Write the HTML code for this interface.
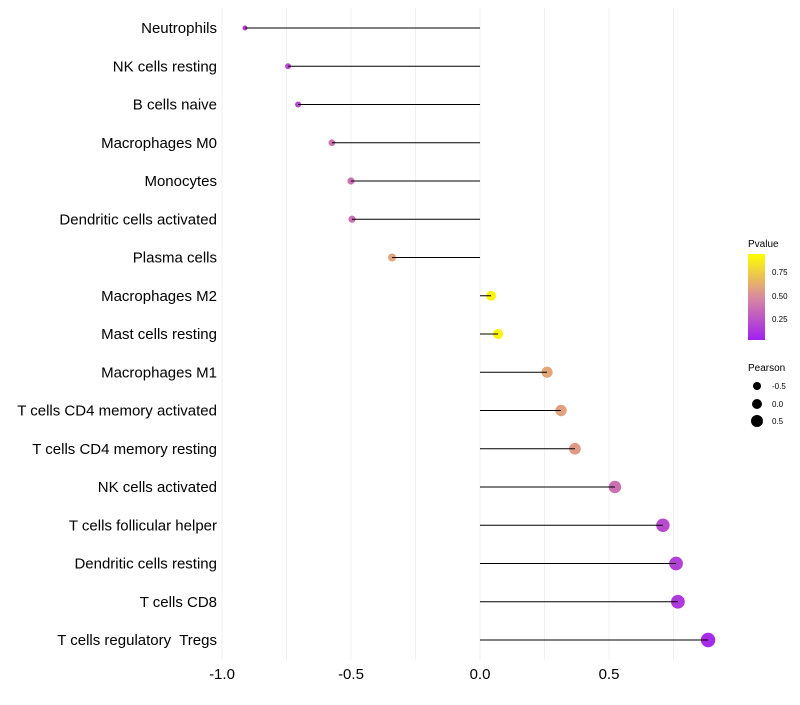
<!DOCTYPE html>
<html><head><meta charset="utf-8"><style>
body{margin:0;background:#fff}
svg text{font-family:"Liberation Sans",sans-serif;white-space:pre}
</style></head><body>
<svg id="chart" width="800" height="700">
<defs><linearGradient id="pg" x1="0" y1="1" x2="0" y2="0">
<stop offset="0" stop-color="#a020f0"/><stop offset="0.5" stop-color="#d98a9e"/><stop offset="1" stop-color="#ffff00"/>
</linearGradient></defs>
<g id="grid"></g><g id="marks"></g><g id="stems"></g><g id="ylabels"></g><g id="xlabels"></g>
<g id="legend">
<text x="748" y="247" font-size="10">Pvalue</text>
<rect x="748" y="254" width="17" height="86" fill="url(#pg)"/>
<text x="772" y="275" font-size="8">0.75</text>
<text x="772" y="299" font-size="8">0.50</text>
<text x="772" y="322" font-size="8">0.25</text>
<text x="748" y="371" font-size="10">Pearson</text>
<circle cx="757" cy="386" r="4" fill="#000"/>
<circle cx="757" cy="404" r="5" fill="#000"/>
<circle cx="757" cy="421" r="6" fill="#000"/>
<text x="772" y="389" font-size="8">-0.5</text>
<text x="772" y="407" font-size="8">0.0</text>
<text x="772" y="424" font-size="8">0.5</text>
</g>
</svg>
<script>
const categories=["Neutrophils","NK cells resting","B cells naive","Macrophages M0","Monocytes","Dendritic cells activated","Plasma cells","Macrophages M2","Mast cells resting","Macrophages M1","T cells CD4 memory activated","T cells CD4 memory resting","NK cells activated","T cells follicular helper","Dendritic cells resting","T cells CD8","T cells regulatory  Tregs"];
const pearson=[-0.911,-0.744,-0.705,-0.574,-0.5,-0.496,-0.341,0.043,0.07,0.26,0.314,0.368,0.523,0.709,0.76,0.767,0.884];
const pvalues=[0.15,0.2,0.2,0.4,0.38,0.38,0.62,0.95,0.95,0.62,0.6,0.57,0.38,0.2,0.16,0.12,0.05];
const xTicks=[-1,-0.5,0,0.5];
const xTickLabels=["-1.0","-0.5","0.0","0.5"];
const NS="http://www.w3.org/2000/svg";
const X=v=>480+v*258;
const Y=i=>28+i*38.25;
const R=v=>2.5+(v+0.92)*2.6;
function col(p){
 const a=[160,32,240],m=[217,138,158],b=[255,255,0];let c;
 if(p<0.5){const t=p/0.5;c=a.map((x,k)=>x+(m[k]-x)*t);}else{const t=(p-0.5)/0.5;c=m.map((x,k)=>x+(b[k]-x)*t);}
 return `rgb(${c.map(Math.round).join(",")})`;
}
function mk(t,at,p){const e=document.createElementNS(NS,t);for(const k in at)e.setAttribute(k,at[k]);p.appendChild(e);return e;}
const grid=document.getElementById('grid');
for(let v=-1;v<=0.76;v+=0.25){
 const g=mk('line',{x1:X(v),x2:X(v),y1:8,y2:660,stroke:'#f0f0f0','stroke-width':1},grid);
 
 
}
const marks=document.getElementById('marks'),stems=document.getElementById('stems'),yl=document.getElementById('ylabels'),xl=document.getElementById('xlabels');
categories.forEach((c,i)=>{
 const d=mk('circle',{cx:X(pearson[i]),cy:Y(i),r:R(pearson[i]),fill:col(pvalues[i])},marks);
 
 
 const ln=mk('line',{x1:X(0),x2:X(pearson[i]),y1:Y(i),y2:Y(i),stroke:'#000','stroke-width':1},stems);
 
 
 const t=mk('text',{x:217,y:Y(i)+5,'font-size':15,'text-anchor':'end',fill:'#000'},yl);
 t.textContent=c;
 
 
});
xTicks.forEach((v,i)=>{
 const t=mk('text',{x:X(v),y:679,'font-size':15,'text-anchor':'middle',fill:'#000'},xl);
 t.textContent=xTickLabels[i];
 
 
});
</script>
</body></html>
